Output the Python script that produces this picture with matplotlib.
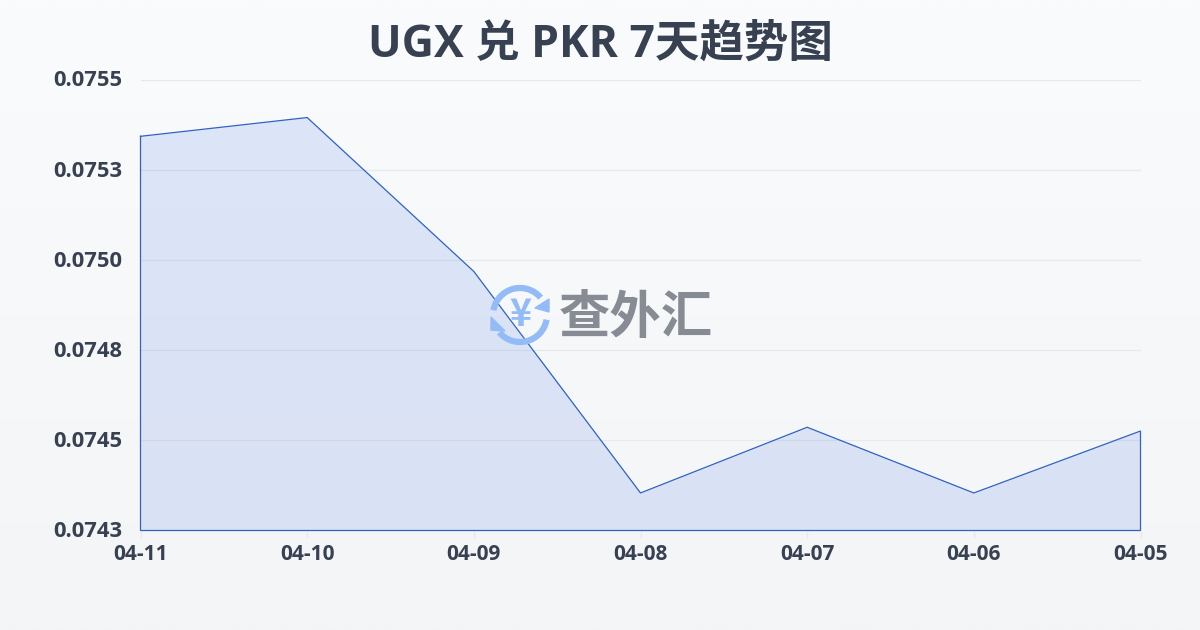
import numpy as np
import matplotlib
matplotlib.use("Agg")
import matplotlib.pyplot as plt
from matplotlib.patches import Arc, Polygon
from matplotlib.transforms import ScaledTranslation

FONT = ["Open Sans", "Noto Sans CJK SC", "DejaVu Sans"]
plt.rcParams["font.family"] = FONT

title = "UGX 兑 PKR 7天趋势图"
dates = ["04-11", "04-10", "04-09", "04-08", "04-07", "04-06", "04-05"]
rates = [0.07535, 0.07540, 0.07499, 0.07440, 0.074575, 0.07440, 0.074565]
y_ticks = [0.0743, 0.07454, 0.07478, 0.07502, 0.07526, 0.0755]
y_labels = ["0.0743", "0.0745", "0.0748", "0.0750", "0.0753", "0.0755"]
watermark = "查外汇"

W, H = 1200, 630
fig = plt.figure(figsize=(W / 100, H / 100), dpi=100)

bg = fig.add_axes([0, 0, 1, 1], zorder=0)
top = np.array([0xfa, 0xfb, 0xfd]) / 255
bot = np.array([0xf3, 0xf5, 0xf7]) / 255
t = np.linspace(0, 1, 256)[:, None, None]
bg.imshow(top * (1 - t) + bot * t, aspect="auto", extent=[0, W, H, 0])
bg.set_xlim(0, W); bg.set_ylim(H, 0); bg.axis("off")

ax = fig.add_axes([140.5 / W, 1 - 530.5 / H, 1000 / W, 450.5 / H], zorder=1)
ax.patch.set_alpha(0)
x = np.arange(len(dates))
ax.set_xlim(0, len(dates) - 1)
ax.set_ylim(0.0743, 0.0755)
ax.set_axisbelow(True)
ax.grid(axis="y", color="#e7e9ee", lw=0.9)
ax.grid(axis="x", visible=False)
for s in ax.spines.values():
    s.set_visible(False)
ax.fill_between(x, rates, 0.0743, color="#2563e0", alpha=0.13, lw=0, zorder=2)
ax.plot(list(x) + [x[-1], x[0], x[0]], rates + [0.0743, 0.0743, rates[0]],
        color="#2f62c4", lw=0.9, zorder=4, clip_on=False, solid_joinstyle="miter")
ax.set_xticks(x, dates)
ax.set_yticks(y_ticks, y_labels)
ax.tick_params(axis="x", length=5, width=1, color="#e7e9ee", pad=5,
               labelsize=15, labelcolor="#374151")
ax.tick_params(axis="y", length=0, pad=13, labelsize=15.8, labelcolor="#374151")
up = ScaledTranslation(0, 1.5 / 100, fig.dpi_scale_trans)
for lb in ax.get_yticklabels():
    lb.set_fontweight("bold")
    lb.set_transform(lb.get_transform() + up)
for lb in ax.get_xticklabels():
    lb.set_fontweight("bold")

fig.text(600 / W, 1 - 45 / H, title, ha="center", va="center", fontsize=32,
         fontweight="bold", color="#374151")

# watermark, in pixel coordinates
wm = fig.add_axes([0, 0, 1, 1], zorder=3)
wm.set_xlim(0, W); wm.set_ylim(H, 0); wm.axis("off"); wm.patch.set_alpha(0)
blue = "#93bbf7"
cx, cy, r = 520, 315, 27
wm.add_patch(Arc((cx, cy), 2 * r, 2 * r, theta1=190, theta2=320, color=blue, lw=4.5))
wm.add_patch(Arc((cx, cy), 2 * r, 2 * r, theta1=10, theta2=140, color=blue, lw=4.5))
wm.add_patch(Polygon([[549, 299], [549, 312], [535, 308]], color=blue))
wm.add_patch(Polygon([[491, 317], [491, 330], [505, 331]], color=blue))
wm.text(cx, cy - 1, "¥", ha="center", va="center", fontsize=27, fontweight="bold",
        color=blue, family=["Noto Sans CJK SC"])
wm.text(636, 318, watermark, ha="center", va="center", fontsize=37,
        fontweight="bold", color="#868b94", family=["Noto Sans CJK SC"])

fig.savefig("out.png", dpi=100)
